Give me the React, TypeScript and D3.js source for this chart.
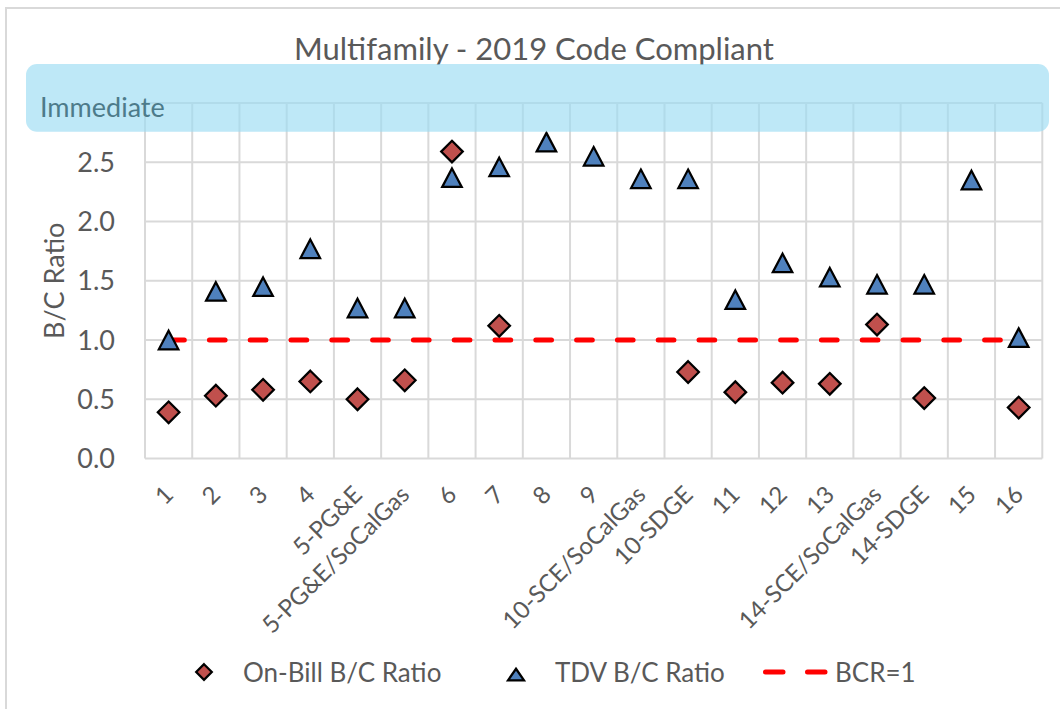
import React from "react";
import * as d3 from "d3";

const categories: string[] = [
  "1", "2", "3", "4", "5-PG&E", "5-PG&E/SoCalGas", "6", "7", "8", "9",
  "10-SCE/SoCalGas", "10-SDGE", "11", "12", "13", "14-SCE/SoCalGas", "14-SDGE", "15", "16",
];
const onBillRatio: (number | null)[] = [
  0.39, 0.53, 0.58, 0.65, 0.5, 0.66, 2.59, 1.12, null, null,
  null, 0.73, 0.56, 0.64, 0.63, 1.13, 0.51, null, 0.43,
];
const tdvRatio: number[] = [
  1.0, 1.41, 1.45, 1.77, 1.27, 1.27, 2.37, 2.46, 2.67, 2.55,
  2.36, 2.36, 1.34, 1.65, 1.53, 1.47, 1.47, 2.35, 1.02,
];
const bcrLine: number[] = [1, 1, 1, 1, 1, 1, 1, 1, 1, 1, 1, 1, 1, 1, 1, 1, 1, 1, 1];
const yTicks: number[] = [0, 0.5, 1, 1.5, 2, 2.5, 3];
const yTickLabels: string[] = ["0.0", "0.5", "1.0", "1.5", "2.0", "2.5", ""];
const seriesNames: string[] = ["On-Bill B/C Ratio", "TDV B/C Ratio", "BCR=1"];
const titleText = "Multifamily - 2019 Code Compliant";
const yTitle = "B/C Ratio";
const boxLabel = "Immediate";

const W = 1060;
const H = 709;
const FONT = "Lato, 'Open Sans', sans-serif";
const TXT = "#595959";
const GRID = "#d9d9d9";
const RED_FILL = "#C0504D";
const BLUE_FILL = "#4F81BD";

const plotLeft = 145;
const plotRight = 1042.3;
const plotTop = 103;
const plotBottom = 458.5;

const diamondPath = (r: number) => `M0,${-r}L${r},0L0,${r}L${-r},0Z`;
const trianglePath = (w: number, h: number) =>
  `M0,${-h / 2}L${w / 2},${h / 2}L${-w / 2},${h / 2}Z`;

export default function App() {
  const x = d3.scaleBand<string>().domain(categories).range([plotLeft, plotRight]).padding(0);
  const y = d3.scaleLinear().domain([0, 3]).range([plotBottom, plotTop]);
  const cx = (c: string) => (x(c) as number) + x.bandwidth() / 2;

  const line = d3
    .line<number>()
    .x((_, i) => cx(categories[i]))
    .y((d) => y(d));

  const boundaries = categories.map((c) => x(c) as number).concat([plotRight]);

  return (
    <svg
      width={W}
      height={H}
      style={{ position: "absolute", left: 0, top: 0, background: "#fff" }}
      fontFamily={FONT}
    >
      <rect x={0} y={0} width={W} height={H} fill="#fff" />
      {/* outer chart border (cropped at right/bottom) */}
      <rect x={6} y={8} width={1200} height={900} fill="none" stroke={GRID} strokeWidth={2} />

      {/* title */}
      <text x={534} y={60} textAnchor="middle" fontSize={31} fill={TXT}>
        {titleText}
      </text>

      {/* gridlines */}
      {yTicks.map((t) => (
        <line key={"h" + t} x1={plotLeft} x2={plotRight} y1={y(t)} y2={y(t)} stroke={GRID} strokeWidth={2} />
      ))}
      {boundaries.map((b, i) => (
        <line key={"v" + i} x1={b} x2={b} y1={plotTop} y2={plotBottom} stroke={GRID} strokeWidth={2} />
      ))}

      {/* y tick labels */}
      {yTicks.map((t, i) => (
        <text key={"yl" + t} x={115} y={y(t)} dy="0.36em" textAnchor="end" fontSize={27} fill={TXT}>
          {yTickLabels[i]}
        </text>
      ))}

      {/* y axis title */}
      <text
        transform={`translate(64,${(plotTop + plotBottom) / 2}) rotate(-90)`}
        textAnchor="middle"
        fontSize={27}
        fill={TXT}
      >
        {yTitle}
      </text>

      {/* x labels */}
      {categories.map((c) => (
        <text
          key={"xl" + c}
          transform={`translate(${cx(c)},490) rotate(-45)`}
          textAnchor="end"
          dy="0.36em"
          fontSize={24}
          fill={TXT}
        >
          {c}
        </text>
      ))}

      {/* BCR=1 dashed line */}
      <path
        d={line(bcrLine) as string}
        fill="none"
        stroke="#FF0000"
        strokeWidth={5}
        strokeLinecap="round"
        strokeDasharray="15.7 25.1"
      />

      {/* on-bill diamonds */}
      {onBillRatio.map((v, i) =>
        v == null ? null : (
          <path
            key={"d" + i}
            d={diamondPath(10.8)}
            transform={`translate(${cx(categories[i])},${y(v)})`}
            fill={RED_FILL}
            stroke="#000"
            strokeWidth={2.25}
          />
        )
      )}

      {/* TDV triangles */}
      {tdvRatio.map((v, i) => (
        <path
          key={"t" + i}
          d={trianglePath(19.5, 18.5)}
          transform={`translate(${cx(categories[i])},${y(v)})`}
          fill={BLUE_FILL}
          stroke="#000"
          strokeWidth={2.25}
        />
      ))}

      {/* Immediate box */}
      <rect x={26} y={64} width={1023} height={67.7} rx={11} ry={11} fill="rgb(155,220,243)" fillOpacity={0.65} />
      <text x={40} y={117} fontSize={27} fill="#4d7b8a">
        {boxLabel}
      </text>

      {/* legend */}
      <path d={diamondPath(7.8)} transform="translate(204,672)" fill={RED_FILL} stroke="#000" strokeWidth={2.25} />
      <text x={243} y={681.5} fontSize={26} fill={TXT}>
        {seriesNames[0]}
      </text>
      <path d={trianglePath(16, 11.5)} transform="translate(516,674.5)" fill={BLUE_FILL} stroke="#000" strokeWidth={2.25} />
      <text x={555} y={681.5} fontSize={26} fill={TXT}>
        {seriesNames[1]}
      </text>
      <line
        x1={765.5}
        x2={826}
        y1={672}
        y2={672}
        stroke="#FF0000"
        strokeWidth={5}
        strokeLinecap="round"
        strokeDasharray="17.5 24.5"
      />
      <text x={835} y={681.5} fontSize={26} fill={TXT}>
        {seriesNames[2]}
      </text>
    </svg>
  );
}
